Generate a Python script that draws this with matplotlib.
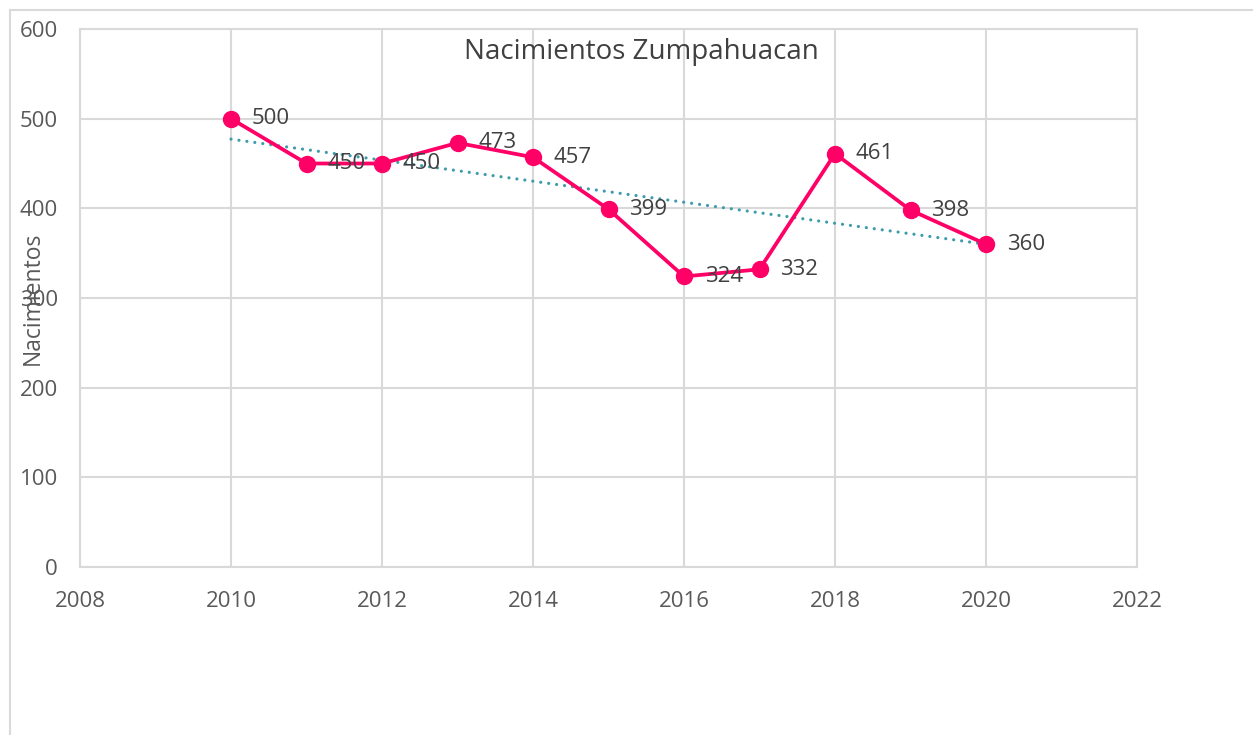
import numpy as np
import matplotlib.pyplot as plt
from matplotlib.patches import Rectangle

plt.rcParams['font.family'] = ['Open Sans', 'DejaVu Sans']

years = [2010, 2011, 2012, 2013, 2014, 2015, 2016, 2017, 2018, 2019, 2020]
births = [500, 450, 450, 473, 457, 399, 324, 332, 461, 398, 360]
x_ticks = [2008, 2010, 2012, 2014, 2016, 2018, 2020, 2022]
y_ticks = [0, 100, 200, 300, 400, 500, 600]

W, H = 1253, 735
fig = plt.figure(figsize=(W / 100, H / 100), dpi=100)
ax = fig.add_axes([80 / W, 1 - 567 / H, (1137 - 80) / W, (567 - 29) / H])

# outer chart frame (clipped at right and bottom)
fig.patches.append(Rectangle((10 / W, -0.1), 1.2, 1 - 10 / H + 0.1,
                             transform=fig.transFigure, fill=False,
                             edgecolor='#d9d9d9', linewidth=1.5))

grid_c = '#d9d9d9'
text_c = '#595959'

# trend line (linear fit)
coef = np.polyfit(years, births, 1)
tx = np.array([years[0], years[-1]])
ax.plot(tx, np.polyval(coef, tx), linestyle=(0, (0.01, 2.5)), color='#3d9bab',
        linewidth=2.3, zorder=3, dash_capstyle='round')

ax.plot(years, births, color='#ff0066', linewidth=2.7, marker='o',
        markersize=11.5, zorder=4)

for x, y in zip(years, births):
    ax.annotate(str(y), (x, y), xytext=(15, 0), textcoords='offset points',
                va='center', ha='left', fontsize=16, color='#404040', zorder=5)

ax.set_xlim(2008, 2022)
ax.set_ylim(0, 600)
ax.set_xticks(x_ticks)
ax.set_yticks(y_ticks)
ax.grid(True, color=grid_c, linewidth=1.5)
ax.set_axisbelow(True)
for s in ax.spines.values():
    s.set_color(grid_c)
    s.set_linewidth(1.5)
ax.tick_params(length=0, labelsize=16, labelcolor=text_c)
ax.tick_params(axis='x', pad=17)
ax.tick_params(axis='y', pad=16)

fig.text(641 / W, 1 - 52 / H, 'Nacimientos Zumpahuacan', ha='center',
         va='center', fontsize=20, color='#404040')
fig.text(33 / W, 1 - 298 / H, 'Nacimientos', rotation=90, ha='center',
         va='center', fontsize=16.5, color=text_c)

fig.savefig('out.png', dpi=100)
